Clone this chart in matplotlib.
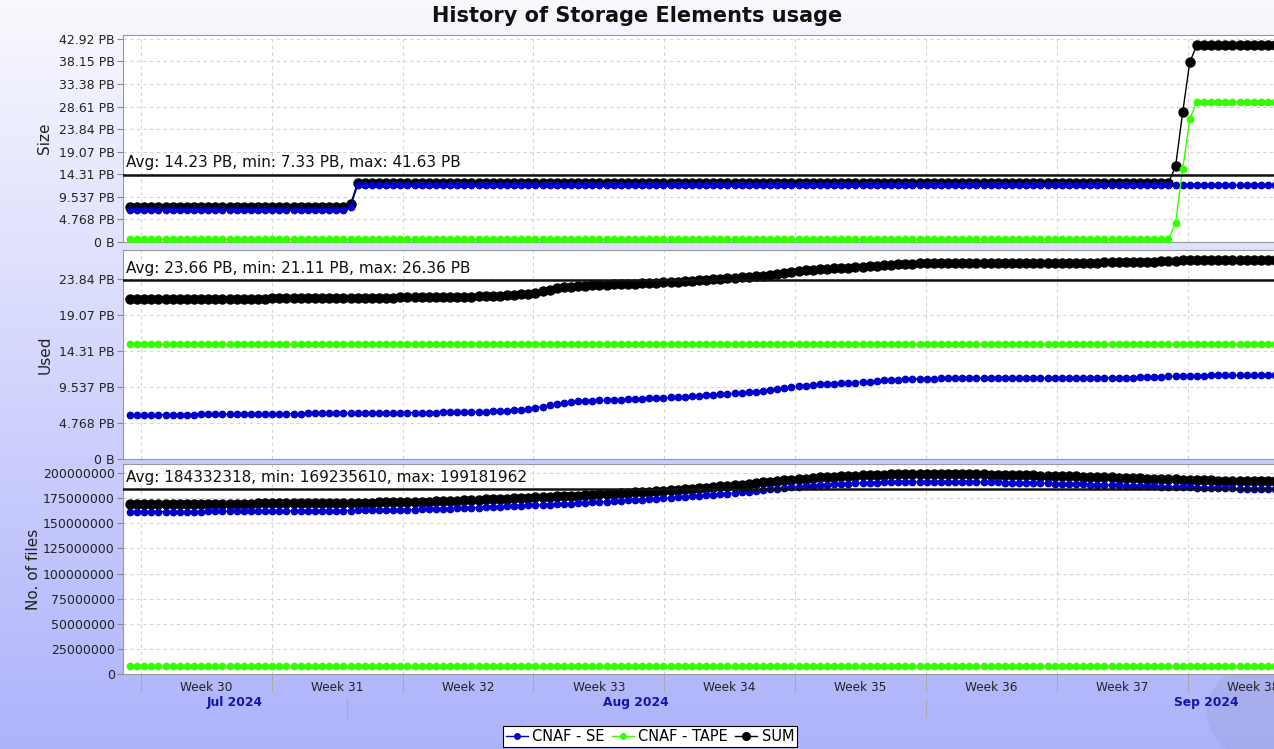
import numpy as np
import pandas as pd
import matplotlib
matplotlib.use("Agg")
import matplotlib.pyplot as plt
from matplotlib.lines import Line2D
from matplotlib.patches import Ellipse
from matplotlib.transforms import blended_transform_factory

# ---------------- data ----------------
series_names = ["CNAF - SE", "CNAF - TAPE", "SUM"]
n_points = 162
t_start = "2024-07-20 09:53"
t_step = "548min"

# Size (PB)
size_se = [6.80] * 31 + [7.40] + [11.98] * 130
size_tape = [0.53] * 147 + [4.0, 15.4, 26.0] + [29.65] * 12

# Used (PB)
used_tape = [15.28] * 162
used_se = [
    5.85, 5.85, 5.86, 5.86, 5.87, 5.87, 5.88, 5.88, 5.89, 5.89,
    5.90, 5.90, 5.91, 5.91, 5.92, 5.93, 5.94, 5.95, 5.96, 5.97,
    5.98, 5.99, 6.00, 6.01, 6.02, 6.03, 6.04, 6.05, 6.05, 6.06,
    6.07, 6.07, 6.08, 6.08, 6.09, 6.09, 6.10, 6.10, 6.11, 6.11,
    6.12, 6.13, 6.14, 6.15, 6.16, 6.17, 6.18, 6.20, 6.22, 6.24,
    6.27, 6.30, 6.34, 6.38, 6.44, 6.52, 6.62, 6.76, 6.94, 7.12,
    7.30, 7.44, 7.55, 7.62, 7.67, 7.71, 7.75, 7.79, 7.83, 7.87,
    7.91, 7.95, 7.99, 8.03, 8.07, 8.11, 8.16, 8.21, 8.27, 8.33,
    8.39, 8.45, 8.51, 8.57, 8.63, 8.70, 8.77, 8.84, 8.92, 9.00,
    9.10, 9.22, 9.36, 9.50, 9.62, 9.72, 9.80, 9.87, 9.93, 9.98,
    10.03, 10.08, 10.13, 10.19, 10.26, 10.33, 10.40, 10.46, 10.51, 10.56,
    10.60, 10.63, 10.65, 10.66, 10.67, 10.67, 10.68, 10.68, 10.68, 10.69,
    10.69, 10.69, 10.70, 10.70, 10.70, 10.70, 10.71, 10.71, 10.71, 10.72,
    10.72, 10.72, 10.73, 10.73, 10.73, 10.74, 10.74, 10.75, 10.75, 10.76,
    10.77, 10.78, 10.80, 10.83, 10.87, 10.91, 10.95, 10.99, 11.02, 11.04,
    11.05, 11.05, 11.06, 11.06, 11.06, 11.06, 11.07, 11.07, 11.07, 11.07,
    11.08, 11.08,
]

# No. of files (millions)
files_tape = [7.70] * 162
files_se = [
    161.50, 161.52, 161.55, 161.58, 161.60, 161.63, 161.66, 161.70, 161.73, 161.76,
    161.80, 161.84, 161.88, 161.92, 161.96, 162.00, 162.04, 162.08, 162.12, 162.17,
    162.22, 162.27, 162.32, 162.37, 162.42, 162.47, 162.52, 162.58, 162.64, 162.70,
    162.76, 162.83, 162.90, 162.98, 163.06, 163.15, 163.24, 163.34, 163.44, 163.55,
    163.70, 163.85, 164.00, 164.20, 164.40, 164.65, 164.90, 165.20, 165.50, 165.80,
    166.10, 166.40, 166.70, 167.00, 167.30, 167.60, 167.90, 168.20, 168.50, 168.80,
    169.10, 169.40, 169.70, 170.00, 170.40, 170.80, 171.20, 171.60, 172.00, 172.40,
    172.80, 173.20, 173.60, 174.00, 174.40, 174.80, 175.30, 175.80, 176.30, 176.80,
    177.30, 177.90, 178.50, 179.10, 179.70, 180.30, 181.00, 181.70, 182.40, 183.10,
    183.80, 184.50, 185.20, 185.80, 186.40, 187.00, 187.50, 188.00, 188.40, 188.80,
    189.20, 189.50, 189.80, 190.10, 190.40, 190.60, 190.80, 191.00, 191.15, 191.25,
    191.35, 191.42, 191.46, 191.48, 191.48, 191.46, 191.42, 191.36, 191.28, 191.20,
    191.10, 190.95, 190.80, 190.65, 190.50, 190.35, 190.20, 190.05, 189.90, 189.75,
    189.60, 189.40, 189.20, 189.00, 188.80, 188.60, 188.40, 188.20, 188.00, 187.80,
    187.60, 187.40, 187.20, 187.00, 186.80, 186.60, 186.40, 186.20, 186.00, 185.80,
    185.60, 185.40, 185.20, 185.00, 184.90, 184.80, 184.70, 184.60, 184.50, 184.50,
    184.40, 184.40,
]

# statistics shown in the chart
stats_text = [
    "Avg: 14.23 PB, min: 7.33 PB, max: 41.63 PB",
    "Avg: 23.66 PB, min: 21.11 PB, max: 26.36 PB",
    "Avg: 184332318, min: 169235610, max: 199181962",
]
stats_avg = [14.23, 23.66, 184.332318]
stats_max = [41.63, 26.36, 199.181962]

panel_labels = ["Size", "Used", "No. of files"]
pb_ticks = [0, 4.768, 9.537, 14.31, 19.07, 23.84, 28.61, 33.38, 38.15, 42.92]
pb_ticklabels = ["0 B", "4.768 PB", "9.537 PB", "14.31 PB", "19.07 PB",
                 "23.84 PB", "28.61 PB", "33.38 PB", "38.15 PB", "42.92 PB"]
files_ticks = [0, 25, 50, 75, 100, 125, 150, 175, 200]
files_ticklabels = ["0", "25000000", "50000000", "75000000", "100000000",
                    "125000000", "150000000", "175000000", "200000000"]

week_starts = ["2024-07-21", "2024-07-28", "2024-08-04", "2024-08-11", "2024-08-18",
               "2024-08-25", "2024-09-01", "2024-09-08", "2024-09-15"]
week_labels = ["Week 30", "Week 31", "Week 32", "Week 33", "Week 34",
               "Week 35", "Week 36", "Week 37", "Week 38"]
month_starts = ["2024-07-01", "2024-08-01", "2024-09-01", "2024-10-01"]
month_labels = ["Jul 2024", "Aug 2024", "Sep 2024"]

title = "History of Storage Elements usage"

# ---------------- figure ----------------
W, H = 1274, 749
fig = plt.figure(figsize=(W / 100, H / 100), dpi=100)

# background gradient
bg = fig.add_axes([0, 0, 1, 1], zorder=-10)
g = np.linspace(0, 1, 256)[:, None, None]
top_c = np.array([0.975, 0.975, 0.995])
bot_c = np.array([0.68, 0.70, 0.985])
bg.imshow(top_c + (bot_c - top_c) * g, aspect="auto", extent=[0, 1, 0, 1])
bg.set_xlim(0, 1)
bg.set_ylim(0, 1)
# faint globe decoration at the bottom right
bg.add_patch(Ellipse((1252 / W, 1 - 712 / H), 90 / W, 90 / H, transform=bg.transAxes,
                     facecolor="#98a0d4", edgecolor="none", alpha=0.35))
bg.axis("off")

def px_axes(left, top, right, bottom):
    return fig.add_axes([left / W, 1 - bottom / H, (right - left) / W, (bottom - top) / H])

times = pd.date_range(t_start, periods=n_points, freq=t_step)
x_left = pd.Timestamp("2024-07-20 00:53")
x_right = pd.Timestamp("2024-09-19 14:53")

c_se = "#0000c8"
c_tape = "#33ff00"
c_sum = "#000000"

panels = [
    (size_se, size_tape, (35, 242)),
    (used_se, used_tape, (250, 459)),
    (files_se, files_tape, (464, 674)),
]

axes = []
for k, (se, tape, (ptop, pbot)) in enumerate(panels):
    ax = px_axes(123, ptop, 1274, pbot)
    ax.set_facecolor("white")
    se_a = np.array(se)
    tape_a = np.array(tape)
    total = se_a + tape_a
    ax.plot(times, total, color=c_sum, marker="o", ms=6.5, lw=1.0, clip_on=False, zorder=3)
    ax.plot(times, se_a, color=c_se, marker="o", ms=4.6, lw=1.0, clip_on=False, zorder=4)
    ax.plot(times, tape_a, color=c_tape, marker="o", ms=4.6, lw=1.0, clip_on=False, zorder=5)
    ax.set_xlim(x_left, x_right)
    ax.set_ylim(0, stats_max[k] * 1.05)
    if k < 2:
        nt = 10 if k == 0 else 6
        ax.set_yticks(pb_ticks[:nt])
        ax.set_yticklabels(pb_ticklabels[:nt])
    else:
        ax.set_yticks(files_ticks)
        ax.set_yticklabels(files_ticklabels)
    ax.tick_params(axis="y", direction="out", length=4, width=0.8, color="#888888",
                   labelsize=9, labelcolor="#222222", pad=2)
    ax.set_xticks(pd.to_datetime(week_starts))
    ax.grid(True, color="#d4d4d4", ls=(0, (3, 3)), lw=0.8)
    ax.set_axisbelow(True)
    for s in ["left", "top", "bottom"]:
        ax.spines[s].set_color("#999999")
    ax.spines["right"].set_visible(False)
    ax.axhline(stats_avg[k], color="#111111", lw=1.8, zorder=6)
    ax.annotate(stats_text[k], xy=(0, stats_avg[k]), xycoords=("axes fraction", "data"),
                xytext=(2.5, 3.0), textcoords="offset points", fontsize=11,
                va="bottom", ha="left", color="#111111", zorder=7)
    if k < 2:
        ax.tick_params(axis="x", length=0, labelbottom=False)
    axes.append(ax)
    ymid = (ptop + pbot) / 2
    fig.text((45 if k < 2 else 34) / W, 1 - ymid / H, panel_labels[k], rotation=90,
             ha="center", va="center", fontsize=11, color="#222222")

# bottom axis decorations
axb = axes[2]
axb.tick_params(axis="x", which="major", direction="out", length=13, width=0.8,
                color="#aaaaaa", labelbottom=False)
wk = pd.to_datetime(week_starts)
axb.set_xticks(wk + pd.Timedelta(hours=84), minor=True)
axb.set_xticklabels(week_labels, minor=True)
axb.tick_params(axis="x", which="minor", length=0, labelsize=8.7, labelcolor="#222222", pad=5)

trans = blended_transform_factory(axb.transData, axb.transAxes)
ms = pd.to_datetime(month_starts)
for i, lab in enumerate(month_labels):
    a = max(ms[i], x_left)
    b = ms[i + 1]
    mid = a + (b - a) / 2
    axb.text(mid, -0.138, lab, transform=trans, ha="center", va="center",
             fontsize=8.8, fontweight="bold", color="#1414a8", clip_on=False)
for m in ms[1:3]:
    axb.add_line(Line2D([m, m], [-0.12, -0.205], transform=trans, color="#aaaaaa",
                        lw=0.8, clip_on=False))

# title
fig.text(0.5, 1 - 16 / H, title, ha="center", va="center", fontsize=15,
         fontweight="bold", color="#111111")

# legend
handles = [
    Line2D([], [], color=c_se, marker="o", ms=4.0, lw=1.0),
    Line2D([], [], color=c_tape, marker="o", ms=4.0, lw=1.0),
    Line2D([], [], color=c_sum, marker="o", ms=5.5, lw=1.0),
]
leg = fig.legend(handles, series_names, loc="lower center", bbox_to_anchor=(650 / W, 2 / H),
                 ncol=3, fontsize=10.5, frameon=True, fancybox=False, edgecolor="black",
                 framealpha=1, handlelength=1.5, handletextpad=0.3, columnspacing=0.5,
                 borderpad=0.2, borderaxespad=0)
leg.get_frame().set_linewidth(0.8)

fig.savefig("out.png", dpi=100)
